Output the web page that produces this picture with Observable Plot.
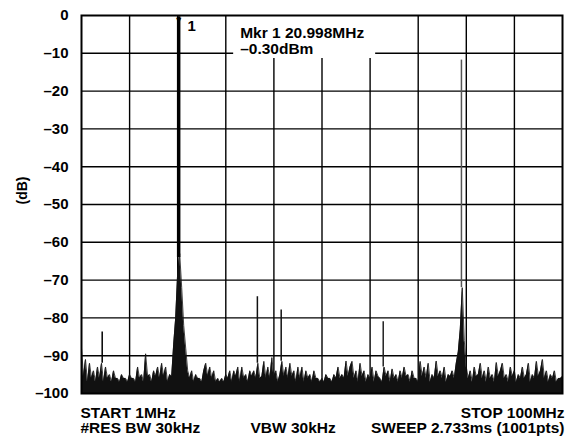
<!DOCTYPE html>
<html><head><meta charset="utf-8">
<script src="https://cdn.jsdelivr.net/npm/d3@7"></script>
<script src="https://cdn.jsdelivr.net/npm/@observablehq/plot@0.6"></script>
<style>body{margin:0;background:#fff;} svg{display:block;}</style>
</head><body><div id="chart"></div>
<script>
const startMHz = 1, stopMHz = 100;
// trace, one value per ~2 px
const noiseDb = [
 -88, -95.5, -91, -97, -92, -96, -94, -97, -93, -96,
 -92, -97, -93, -96, -95, -97, -94, -96, -96, -97,
 -95, -96, -96, -97, -95, -96, -96, -97, -93, -96,
 -95, -97, -89.5, -95.5, -95, -97, -94, -95.5, -93, -96,
 -92, -95.5, -93, -97, -95, -95.5, -87, -80, -68, -63,
 -72, -82, -88, -94, -96, -94, -97, -95, -96, -96,
 -97, -94, -92, -95.5, -93, -96, -94, -97, -96, -97,
 -96, -97, -95, -96, -94, -97, -94, -95.5, -93, -97,
 -93, -96, -95, -97, -94, -95.5, -94, -96, -92, -96,
 -95.5, -91.5, -96, -93, -96, -90.5, -95.5, -94, -97, -95,
 -91.5, -95.5, -93, -96, -92, -95.5, -94, -97, -93, -96,
 -93, -97, -94, -96, -95, -97, -94, -96, -96, -97,
 -96, -97, -95, -96, -96, -97, -95, -96, -93, -96,
 -95, -96, -91.4, -95.5, -93, -91.5, -96, -94, -97, -92,
 -95.5, -94, -97, -95, -96, -93, -97, -94, -95.5, -96,
 -97, -93, -95.5, -94, -97, -93.5, -96, -95, -97, -94,
 -96, -93, -95.5, -95, -97, -94, -96, -96, -97, -91.5,
 -95.5, -93, -96, -92, -97, -95, -96, -91.4, -95.5, -94,
 -96, -93, -97, -95, -95.5, -94, -96, -92, -89, -83,
 -72, -86, -93, -96, -94, -97, -93, -95.5, -95, -92,
 -96, -94, -97, -93, -96, -95, -97, -91.8, -95.5, -94,
 -92, -96, -95, -97, -93, -95.5, -94, -97, -95, -96,
 -93, -96, -95, -92, -97, -95, -96, -91.5, -95.5, -94,
 -91, -96, -94, -97, -95, -96, -94, -97, -96, -96,
 -95.5
];
const spikeFreq = [5.26, 37.2, 42.1, 63.1, 79.2];
const spikeTop  = [-83.7, -74.4, -77.9, -81, -11.8];
const spikeBase = [-92, -92, -91.5, -93, -72];
const spikeColor = ["#000", "#111", "#111", "#222", "#555"];
const markerFreq = 20.998, markerDb = -0.3, carrierBase = -64;
const yTicks = [0, -10, -20, -30, -40, -50, -60, -70, -80, -90, -100];
const yTickLabels = ["0", "–10", "–20", "–30", "–40", "–50", "–60", "–70", "–80", "–90", "–100"];
const footLeft = ["START 1MHz", "#RES BW 30kHz"];
const footMid = "VBW 30kHz";
const footRight = ["STOP 100MHz", "SWEEP 2.733ms (1001pts)"];
const yLabel = "(dB)";

const noise = noiseDb.map((db, i) => ({f: startMHz + i * (stopMHz - startMHz) / (noiseDb.length - 1), db}));
const spikes = spikeFreq.map((f, i) => ({f, top: spikeTop[i], base: spikeBase[i], c: spikeColor[i]}));
const xGrid = d3.range(1, 10).map(k => startMHz + k * (stopMHz - startMHz) / 10);
const font = "'Liberation Sans', Arial, Helvetica, sans-serif";

const chart = Plot.plot({
  width: 574, height: 437,
  marginLeft: 81, marginRight: 12, marginTop: 15, marginBottom: 44,
  style: {fontFamily: font, fontWeight: "bold", fontSize: "15px", color: "#000", background: "#fff"},
  x: {domain: [startMHz, stopMHz], axis: null},
  y: {domain: [-100, 0]},
  marks: [
    Plot.ruleX(xGrid, {stroke: "#000", strokeWidth: 1.4}),
    Plot.ruleY(yTicks.slice(1, -1), {stroke: "#000", strokeWidth: 1.4}),
    Plot.axisY({ticks: yTicks, tickFormat: d => yTickLabels[yTicks.indexOf(d)], tickSize: 0, tickPadding: 13, fontSize: 15, label: null}),
    Plot.areaY(noise, {x: "f", y1: -100, y2: "db", fill: "#111"}),
    Plot.line(noise, {x: "f", y: "db", stroke: "#111", strokeWidth: 0.8}),
    Plot.ruleX(spikes, {x: "f", y1: "base", y2: "top", stroke: "c", strokeWidth: 1.5}),
    Plot.ruleX([markerFreq], {y1: carrierBase, y2: markerDb, stroke: "#000", strokeWidth: 3.5}),
    Plot.text([markerFreq], {x: d => d, y: 0, text: () => "▼", fontSize: 9, lineAnchor: "top", dy: 1}),
    Plot.text([markerFreq], {x: d => d, y: 0, text: () => "1", fontSize: 15, lineAnchor: "top", dx: 13, dy: 5}),
    Plot.frame({stroke: "#000", strokeWidth: 2}),
    Plot.text([yLabel], {frameAnchor: "left", text: d => d, rotate: -90, dx: -59, fontSize: 14}),
    Plot.text([footLeft[0]], {frameAnchor: "bottom-left", text: d => d, textAnchor: "start", lineAnchor: "top", dy: 13, dx: -1, fontSize: 15.5}),
    Plot.text([footLeft[1]], {frameAnchor: "bottom-left", text: d => d, textAnchor: "start", lineAnchor: "top", dy: 28.5, dx: -1, fontSize: 15.5}),
    Plot.text([footMid], {frameAnchor: "bottom-left", text: d => d, textAnchor: "start", lineAnchor: "top", dy: 28.5, dx: 169, fontSize: 15.5}),
    Plot.text([footRight[0]], {frameAnchor: "bottom-right", text: d => d, textAnchor: "end", lineAnchor: "top", dy: 13, dx: 2, fontSize: 15.5}),
    Plot.text([footRight[1]], {frameAnchor: "bottom-right", text: d => d, textAnchor: "end", lineAnchor: "top", dy: 28.5, dx: 2, fontSize: 15.5})
  ]
});
document.getElementById("chart").appendChild(chart);

// marker readout box (white background erasing grid lines)
const sx = chart.scale("x"), sy = chart.scale("y");
const mx = sx.apply(markerFreq);
const frameTop = sy.apply(0);
const svg = d3.select(chart);
const groups = chart.querySelectorAll(":scope > g");
const box = document.createElementNS("http://www.w3.org/2000/svg", "rect");
groups[1].after(box);
d3.select(box).attr("x", mx + 55).attr("y", frameTop + 1).attr("width", 142).attr("height", 42).attr("fill", "#fff");
const g = svg.append("g").attr("font-family", font).attr("font-weight", "bold").attr("font-size", 15.5).attr("text-anchor", "start");
g.append("text").attr("x", mx + 62).attr("y", frameTop + 23).text(`Mkr 1 ${markerFreq.toFixed(3)}MHz`);
g.append("text").attr("x", mx + 62).attr("y", frameTop + 38.5).text(`–${Math.abs(markerDb).toFixed(2)}dBm`);
</script>
</body></html>
